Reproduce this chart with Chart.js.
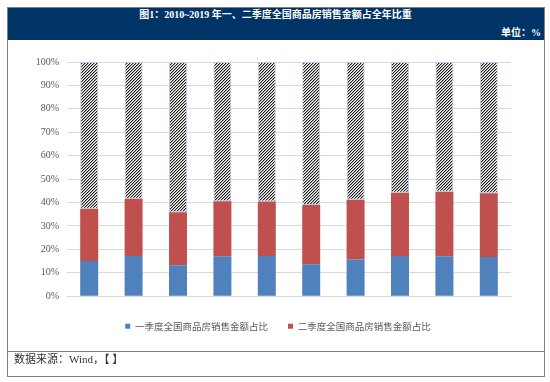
<!DOCTYPE html>
<html>
<head>
<meta charset="utf-8">
<script src="https://cdn.jsdelivr.net/npm/chart.js@4.4.0/dist/chart.umd.min.js"></script>
<style>
  html, body { margin: 0; padding: 0; background: #fff; }
  #wrap { position: relative; width: 550px; height: 382px; overflow: hidden; }
  #c { position: absolute; left: 0; top: 0; }
  #frame { position: absolute; left: 7px; top: 7px; width: 536px; height: 368px; border: 1px solid #7f7f7f; pointer-events: none; }
  #band { position: absolute; left: 7px; top: 7px; width: 537px; height: 33px; background: #003366; }
  #title { position: absolute; left: 7px; top: 9px; width: 537px; text-align: center; color: #fff; font: bold 10px "Liberation Serif", "Noto Sans CJK SC", serif; line-height: 12px; }
  #unit { position: absolute; right: 9px; top: 27px; color: #fff; font: bold 10px "Liberation Serif", "Noto Sans CJK SC", serif; line-height: 12px; }
  #sep { position: absolute; left: 7px; top: 351px; width: 537px; height: 0; border-top: 1px solid #7f7f7f; }
  #foot { position: absolute; left: 14px; top: 352px; color: #333; font: 11px "Liberation Serif", "Noto Sans CJK SC", serif; line-height: 14px; }
</style>
</head>
<body>
<div id="wrap">
  <canvas id="c" width="550" height="382"></canvas>
  <div id="band"></div>
  <div id="title">图1：2010~2019 年一、二季度全国商品房销售金额占全年比重</div>
  <div id="unit">单位：%</div>
  <div id="frame"></div>
  <div id="sep"></div>
  <div id="foot">数据来源：Wind，【 】</div>
</div>
<script>
const categories = ['2010','2011','2012','2013','2014','2015','2016','2017','2018','2019'];
const q1Share = [15.1, 17.2, 13.2, 17.1, 17.2, 13.7, 15.7, 17.2, 17.1, 16.8];
const q2Share = [22.2, 24.4, 22.7, 23.5, 23.3, 25.3, 25.5, 27.0, 27.5, 27.2];
const restShare = [62.7, 58.4, 64.1, 59.4, 59.5, 61.0, 58.8, 55.8, 55.4, 56.0];
const seriesNames = ['一季度全国商品房销售金额占比', '二季度全国商品房销售金额占比', '其余'];
const yTicks = [0,10,20,30,40,50,60,70,80,90,100];

function makeHatch() {
  const p = document.createElement('canvas');
  p.width = 3; p.height = 3;
  const g = p.getContext('2d');
  g.fillStyle = '#ffffff';
  g.fillRect(0,0,3,3);
  for (let x = 0; x < 3; x++) {
    for (let y = 0; y < 3; y++) {
      const k = (x + y) % 3;
      if (k === 0) { g.fillStyle = '#1a1a1a'; g.fillRect(x, y, 1, 1); }
      else if (k === 1) { g.fillStyle = '#a6a6a6'; g.fillRect(x, y, 1, 1); }
    }
  }
  return g.createPattern(p, 'repeat');
}

const legendShift = {
  id: 'legendShift',
  beforeDraw(chart) {
    if (chart.legend) chart.legend.left = 45;
  }
};

const ctx = document.getElementById('c').getContext('2d');
const serifFont = '"Liberation Serif", "Times New Roman", serif';

new Chart(ctx, {
  type: 'bar',
  data: {
    labels: categories,
    datasets: [
      { label: seriesNames[0], data: q1Share, backgroundColor: '#4f81bd', borderWidth: 0, stack: 's' },
      { label: seriesNames[1], data: q2Share, backgroundColor: '#c0504d', borderWidth: 0, stack: 's' },
      { label: seriesNames[2], data: restShare, backgroundColor: makeHatch(), borderColor: '#b4cdea', borderWidth: 1, borderSkipped: false, stack: 's' }
    ]
  },
  plugins: [legendShift],
  options: {
    responsive: false,
    animation: false,
    devicePixelRatio: 1,
    layout: { padding: { left: 27, right: 39, top: 62, bottom: 41 } },
    datasets: { bar: { categoryPercentage: 1, barPercentage: 0.405 } },
    scales: {
      x: {
        stacked: true,
        grid: { display: false, drawTicks: false },
        border: { display: true, color: '#d9d9d9' },
        ticks: { color: '#595959', font: { family: serifFont, size: 10 }, padding: 6, maxRotation: 0 },
        afterFit: s => { s.height = 5.25; }
      },
      y: {
        stacked: true,
        min: 0, max: 100,
        afterBuildTicks: s => { s.ticks = yTicks.map(v => ({ value: v })); },
        grid: { color: '#d9d9d9', lineWidth: 1, drawTicks: false },
        border: { display: false },
        ticks: { color: '#595959', font: { family: serifFont, size: 10 }, padding: 8, callback: v => v + '%' },
        afterFit: s => { s.width = 40; }
      }
    },
    plugins: {
      legend: {
        position: 'bottom',
        labels: {
          filter: item => item.datasetIndex < 2,
          boxWidth: 5, boxHeight: 5,
          padding: 20,
          color: '#595959',
          font: { family: '"Noto Sans CJK SC", sans-serif', size: 9.5 }
        }
      },
      tooltip: { enabled: false }
    }
  }
});
</script>
</body>
</html>
